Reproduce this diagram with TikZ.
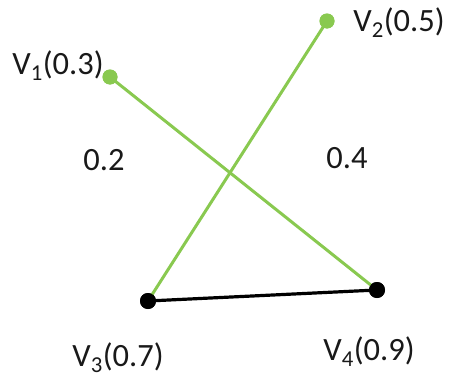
\documentclass[tikz,border=0pt]{standalone}
\usepackage{fontspec}
\setmainfont{Carlito}
\definecolor{lgreen}{RGB}{137,201,80}
\begin{document}
\begin{tikzpicture}[x=1pt,y=-1pt,
  gdot/.style={circle,fill=lgreen,inner sep=0pt,minimum size=15pt},
  bdot/.style={circle,fill=black,inner sep=0pt,minimum size=16pt},
  gline/.style={lgreen,line width=3pt},
  bline/.style={black,line width=3.2pt},
  lab/.style={font=\fontsize{32.5}{38}\selectfont,text=black!90,inner sep=0pt}]
\useasboundingbox (0,0) rectangle (453,383);
\node[gdot] (v1) at (110,77) {};
\node[gdot] (v2) at (327,21) {};
\node[bdot] (v3) at (148,301) {};
\node[bdot] (v4) at (377,290) {};
\draw[gline] (v1.center) -- (v4.center);
\draw[gline] (v2.center) -- (v3.center);
\draw[bline] (v3.center) -- (v4.center);
\node[gdot] at (v1) {};
\node[gdot] at (v2) {};
\node[bdot] at (v3) {};
\node[bdot] at (v4) {};
\node[lab] (l1) at (58,66) {V\textsubscript{1}(0.3)};
\node[lab] (l2) at (399,23) {V\textsubscript{2}(0.5)};
\node[lab] (l3) at (118,358) {V\textsubscript{3}(0.7)};
\node[lab] (l4) at (369,352) {V\textsubscript{4}(0.9)};
\node[lab] (w1) at (104,160) {0.2};
\node[lab] (w2) at (347,158) {0.4};
\end{tikzpicture}
\end{document}
